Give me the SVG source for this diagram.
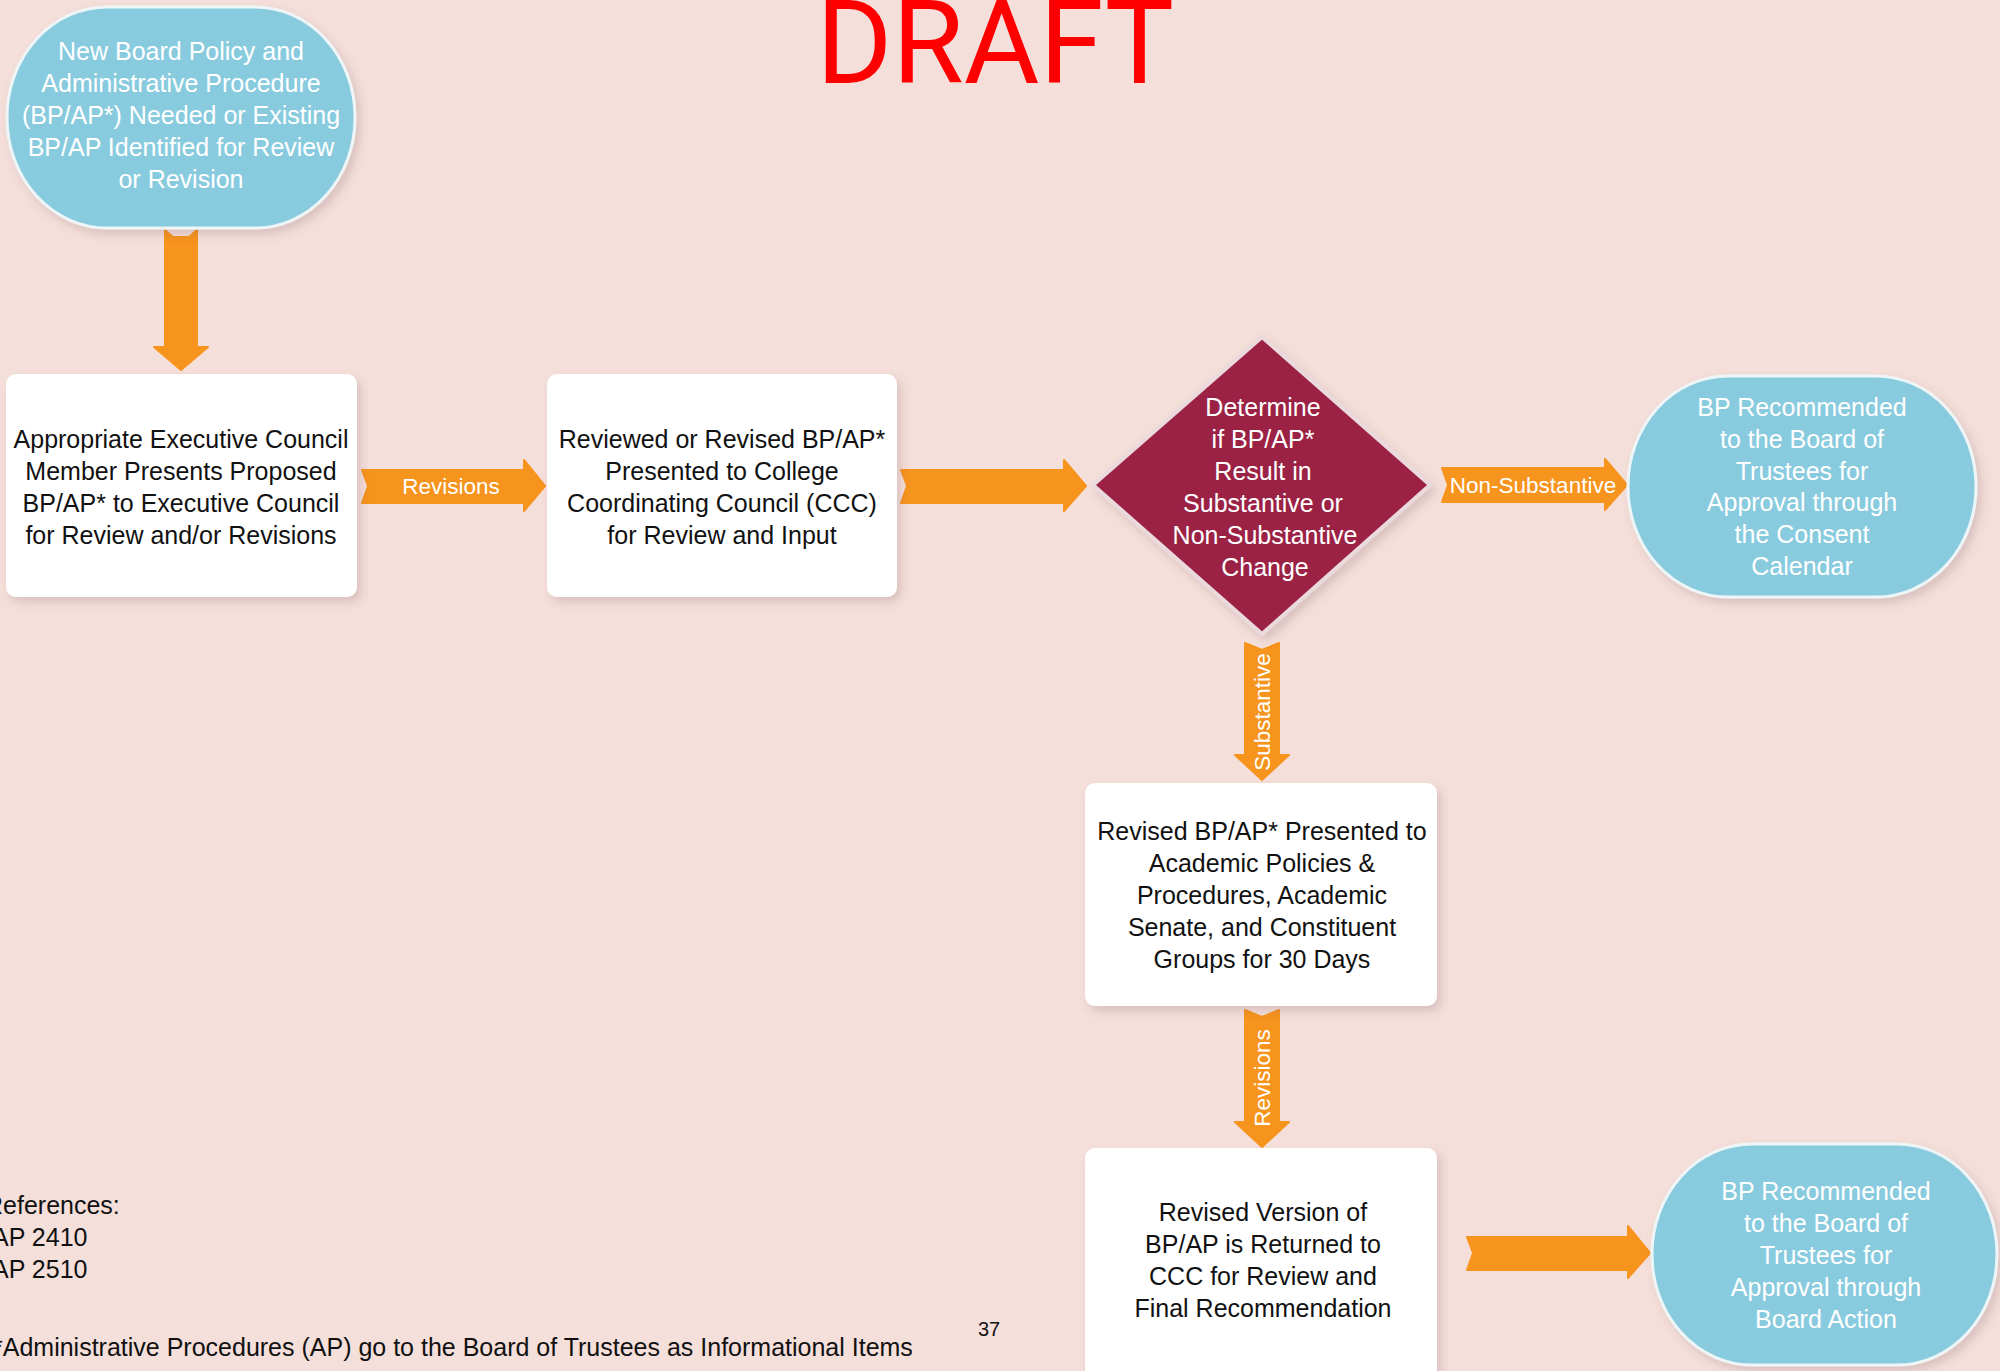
<svg xmlns="http://www.w3.org/2000/svg" width="2000" height="1371" viewBox="0 0 2000 1371">
<defs>
<filter id="sh" x="-20%" y="-20%" width="140%" height="150%">
<feDropShadow dx="4" dy="5" stdDeviation="5" flood-color="#6b4a50" flood-opacity="0.2"/>
</filter>
<style>
.term{fill:#89CBDE;stroke:#EEF5F7;stroke-width:3}
.box{fill:#FFFFFF}
.dia{fill:#9B2345;stroke:#EBDADD;stroke-width:4;stroke-linejoin:round}
.arr{fill:#F7941D;stroke:#F7941D;stroke-width:2;stroke-linejoin:round}
text{font-family:"Liberation Sans",Arial,sans-serif}
.tw{fill:#FFFFFF;font-size:25px;text-anchor:middle}
.tb{fill:#111111;font-size:25px;text-anchor:middle}
.lbl{fill:#FFFFFF;font-size:22.5px;text-anchor:middle}
.note{fill:#111111;font-size:25px}
</style>
</defs>
<rect width="2000" height="1371" fill="#F5DFDA"/>
<text x="995" y="83" font-family="Roboto,sans-serif" style="font-family:Roboto,sans-serif" font-size="116" fill="#FF0000" text-anchor="middle">DRAFT</text>

<g id="connectors">
<path class="arr" d="M165,230 L173,237 L181,237 L189,237 L197,230 L197,347 L208,347 L181,370 L154,347 L165,347 Z"/>
<path class="arr" d="M362,470 L524,470 L524,460 L545,486 L524,511 L524,503 L362,503 L368,486 Z"/>
<text class="lbl" x="451" y="494">Revisions</text>
<path class="arr" d="M901,470 L1064,470 L1064,460 L1086,486 L1064,511 L1064,503 L901,503 L907,486 Z"/>
<path class="arr" d="M1442,468 L1605,468 L1605,459 L1627,485 L1605,510 L1605,502 L1442,502 L1448,485 Z"/>
<text class="lbl" x="1533" y="493">Non-Substantive</text>
<path class="arr" d="M1245,643 L1262,650 L1279,643 L1279,755 L1289,755 L1262,780 L1235,755 L1245,755 Z"/>
<text class="lbl" transform="translate(1270,712) rotate(-90)">Substantive</text>
<path class="arr" d="M1245,1010 L1262,1017 L1279,1010 L1279,1122 L1289,1122 L1262,1147 L1235,1122 L1245,1122 Z"/>
<text class="lbl" transform="translate(1270,1078) rotate(-90)">Revisions</text>
<path class="arr" d="M1467,1237 L1628,1237 L1628,1226 L1650,1253 L1628,1278 L1628,1270 L1467,1270 L1473,1253 Z"/>
</g>

<g id="start">
<rect class="term" x="7" y="7" width="348" height="221" rx="100" ry="110" filter="url(#sh)"/>
<text class="tw" x="181" y="60">New Board Policy and</text>
<text class="tw" x="181" y="92">Administrative Procedure</text>
<text class="tw" x="181" y="124">(BP/AP*) Needed or Existing</text>
<text class="tw" x="181" y="156">BP/AP Identified for Review</text>
<text class="tw" x="181" y="188">or Revision</text>
</g>

<g id="exec-council">
<rect class="box" x="6" y="374" width="351" height="223" rx="10" filter="url(#sh)"/>
<text class="tb" x="181" y="448">Appropriate Executive Council</text>
<text class="tb" x="181" y="480">Member Presents Proposed</text>
<text class="tb" x="181" y="512">BP/AP* to Executive Council</text>
<text class="tb" x="181" y="544">for Review and/or Revisions</text>
</g>

<g id="ccc">
<rect class="box" x="547" y="374" width="350" height="223" rx="10" filter="url(#sh)"/>
<text class="tb" x="722" y="448">Reviewed or Revised BP/AP*</text>
<text class="tb" x="722" y="480">Presented to College</text>
<text class="tb" x="722" y="512">Coordinating Council (CCC)</text>
<text class="tb" x="722" y="544">for Review and Input</text>
</g>

<g id="decision">
<path class="dia" d="M1262,337 L1430,485 L1262,634 L1093,485 Z" filter="url(#sh)"/>
<text class="tw" x="1263" y="416">Determine</text>
<text class="tw" x="1263" y="448">if BP/AP*</text>
<text class="tw" x="1263" y="480">Result in</text>
<text class="tw" x="1263" y="512">Substantive or</text>
<text class="tw" x="1265" y="544">Non-Substantive</text>
<text class="tw" x="1265" y="576">Change</text>
</g>

<g id="consent">
<rect class="term" x="1628" y="376" width="348" height="221" rx="100" ry="110" filter="url(#sh)"/>
<text class="tw" x="1802" y="416">BP Recommended</text>
<text class="tw" x="1802" y="448">to the Board of</text>
<text class="tw" x="1802" y="480">Trustees for</text>
<text class="tw" x="1802" y="511">Approval through</text>
<text class="tw" x="1802" y="543">the Consent</text>
<text class="tw" x="1802" y="575">Calendar</text>
</g>

<g id="academic">
<rect class="box" x="1085" y="783" width="352" height="223" rx="10" filter="url(#sh)"/>
<text class="tb" x="1262" y="840">Revised BP/AP* Presented to</text>
<text class="tb" x="1262" y="872">Academic Policies &amp;</text>
<text class="tb" x="1262" y="904">Procedures, Academic</text>
<text class="tb" x="1262" y="936">Senate, and Constituent</text>
<text class="tb" x="1262" y="968">Groups for 30 Days</text>
</g>

<g id="returned">
<rect class="box" x="1085" y="1148" width="352" height="240" rx="10" filter="url(#sh)"/>
<text class="tb" x="1263" y="1221">Revised Version of</text>
<text class="tb" x="1263" y="1253">BP/AP is Returned to</text>
<text class="tb" x="1263" y="1285">CCC for Review and</text>
<text class="tb" x="1263" y="1317">Final Recommendation</text>
</g>

<g id="board-action">
<rect class="term" x="1652" y="1144" width="345" height="221" rx="100" ry="110" filter="url(#sh)"/>
<text class="tw" x="1826" y="1200">BP Recommended</text>
<text class="tw" x="1826" y="1232">to the Board of</text>
<text class="tw" x="1826" y="1264">Trustees for</text>
<text class="tw" x="1826" y="1296">Approval through</text>
<text class="tw" x="1826" y="1328">Board Action</text>
</g>

<g id="notes">
<text class="note" x="-15" y="1214">References:</text>
<text class="note" x="-8" y="1246">AP 2410</text>
<text class="note" x="-8" y="1278">AP 2510</text>
<text class="note" x="-7" y="1356">*Administrative Procedures (AP) go to the Board of Trustees as Informational Items</text>
<text x="978" y="1336" font-size="20" fill="#111111">37</text>
</g>
</svg>
